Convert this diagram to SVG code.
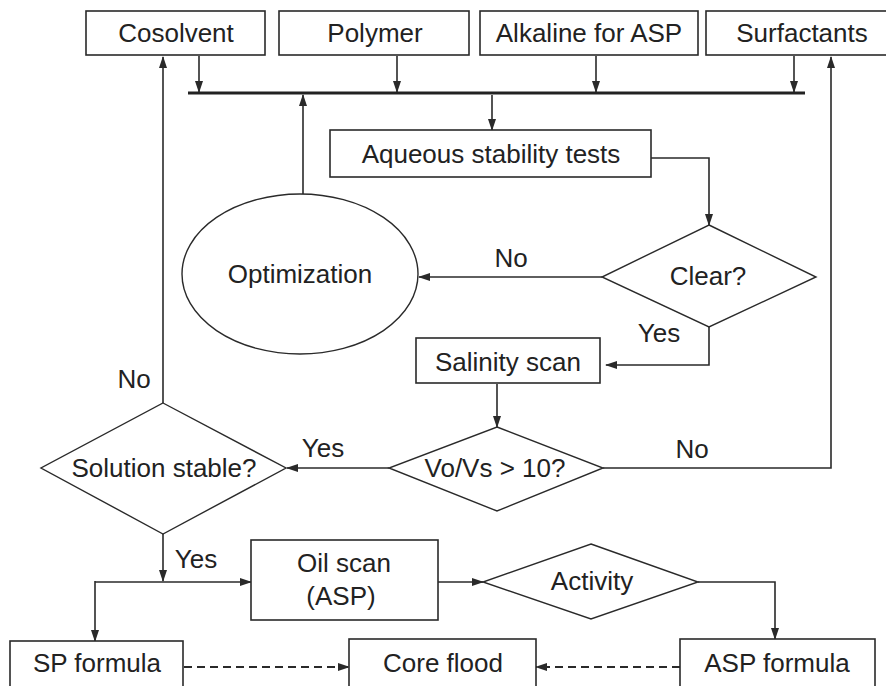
<svg xmlns="http://www.w3.org/2000/svg" width="886" height="686" viewBox="0 0 886 686">
  <style>
    .box { fill: #fff; stroke: #2a2a2a; stroke-width: 1.6; }
    .shape { fill: #fff; stroke: #2a2a2a; stroke-width: 1.4; }
    .lbl { font-family: "Liberation Sans", Arial, sans-serif; font-size: 26px; fill: #222; text-anchor: middle; }
    .wire { fill: none; stroke: #2a2a2a; stroke-width: 1.6; }
    .arr { marker-end: url(#head); }
    .dash { stroke-dasharray: 8 5; stroke-width: 2; }
  </style>
  <defs>
    <marker id="head" markerUnits="userSpaceOnUse" markerWidth="12" markerHeight="8" refX="11" refY="4" orient="auto">
      <path d="M0,0 L12,4 L0,8 z" fill="#2a2a2a"/>
    </marker>
  </defs>
  <rect width="886" height="686" fill="#fff"/>

  <!-- connectors -->
  <g id="connectors">
    <line class="wire arr" x1="199" y1="56" x2="199" y2="92"/>
    <line class="wire arr" x1="397" y1="56" x2="397" y2="92"/>
    <line class="wire arr" x1="596" y1="56" x2="596" y2="92"/>
    <line class="wire arr" x1="794" y1="56" x2="794" y2="92"/>
    <line x1="188" y1="93" x2="805" y2="93" stroke="#222" stroke-width="3.2"/>
    <line class="wire arr" x1="492" y1="95" x2="492" y2="130"/>
    <line class="wire arr" x1="303" y1="194" x2="303" y2="95"/>
    <path class="wire arr" d="M651,158 H709 V225"/>
    <line class="wire arr" x1="602" y1="277" x2="419" y2="277"/>
    <path class="wire arr" d="M709,327 V365 H606"/>
    <line class="wire arr" x1="497" y1="384" x2="497" y2="427"/>
    <path class="wire arr" d="M603,468 H831 V57"/>
    <line class="wire arr" x1="389" y1="468" x2="287" y2="468"/>
    <line class="wire arr" x1="163" y1="403" x2="163" y2="57"/>
    <line class="wire arr" x1="163" y1="534" x2="163" y2="581"/>
    <line class="wire arr" x1="95" y1="582" x2="251" y2="582"/>
    <line class="wire arr" x1="95" y1="581" x2="95" y2="641"/>
    <line class="wire arr" x1="438" y1="582" x2="483" y2="582"/>
    <path class="wire arr" d="M698,582 H775 V639"/>
    <line class="wire dash arr" x1="184" y1="667" x2="349" y2="667"/>
    <line class="wire dash arr" x1="680" y1="667" x2="536" y2="667"/>
  </g>

  <!-- inputs -->
  <g id="cosolvent">
    <rect class="box" x="86" y="11" width="179" height="44"/>
    <text class="lbl" x="176" y="42">Cosolvent</text>
  </g>
  <g id="polymer">
    <rect class="box" x="279" y="11" width="190" height="44"/>
    <text class="lbl" x="375" y="42">Polymer</text>
  </g>
  <g id="alkaline">
    <rect class="box" x="480" y="11" width="218" height="44"/>
    <text class="lbl" x="589" y="42">Alkaline for ASP</text>
  </g>
  <g id="surfactants">
    <rect class="box" x="706" y="11" width="194" height="44"/>
    <text class="lbl" x="802" y="42">Surfactants</text>
  </g>

  <!-- screening -->
  <g id="aqueous">
    <rect class="box" x="330" y="130" width="321" height="47"/>
    <text class="lbl" x="491" y="163">Aqueous stability tests</text>
  </g>
  <g id="clear">
    <polygon class="shape" points="709,225 816,277 709,327 602,277"/>
    <text class="lbl" x="708" y="285">Clear?</text>
  </g>
  <g id="optimization">
    <ellipse class="shape" cx="300" cy="274" rx="118" ry="80"/>
    <text class="lbl" x="300" y="283">Optimization</text>
  </g>
  <g id="salinity">
    <rect class="box" x="416" y="338" width="184" height="45"/>
    <text class="lbl" x="508" y="371">Salinity scan</text>
  </g>
  <g id="ratio">
    <polygon class="shape" points="497,427 603,468 497,511 389,468"/>
    <text class="lbl" x="495" y="477">Vo/Vs &gt; 10?</text>
  </g>
  <g id="stable">
    <polygon class="shape" points="163,403 286,468 163,534 41,468"/>
    <text class="lbl" x="164" y="477">Solution stable?</text>
  </g>
  <g id="oilscan">
    <rect class="box" x="251" y="540" width="187" height="80"/>
    <text class="lbl" x="344" y="572">Oil scan</text>
    <text class="lbl" x="341" y="605">(ASP)</text>
  </g>
  <g id="activity">
    <polygon class="shape" points="591,544 698,582 591,619 483,582"/>
    <text class="lbl" x="592" y="590">Activity</text>
  </g>

  <!-- outcomes -->
  <g id="sp">
    <rect class="box" x="10" y="641" width="173" height="60"/>
    <text class="lbl" x="97" y="672">SP formula</text>
  </g>
  <g id="coreflood">
    <rect class="box" x="349" y="639" width="187" height="60"/>
    <text class="lbl" x="443" y="672">Core flood</text>
  </g>
  <g id="asp">
    <rect class="box" x="680" y="639" width="195" height="60"/>
    <text class="lbl" x="777" y="672">ASP formula</text>
  </g>

  <!-- branch labels -->
  <g id="branch-labels">
    <text class="lbl" x="511" y="267">No</text>
    <text class="lbl" x="659" y="342">Yes</text>
    <text class="lbl" x="134" y="388">No</text>
    <text class="lbl" x="323" y="457">Yes</text>
    <text class="lbl" x="692" y="458">No</text>
    <text class="lbl" x="196" y="568">Yes</text>
  </g>
</svg>
